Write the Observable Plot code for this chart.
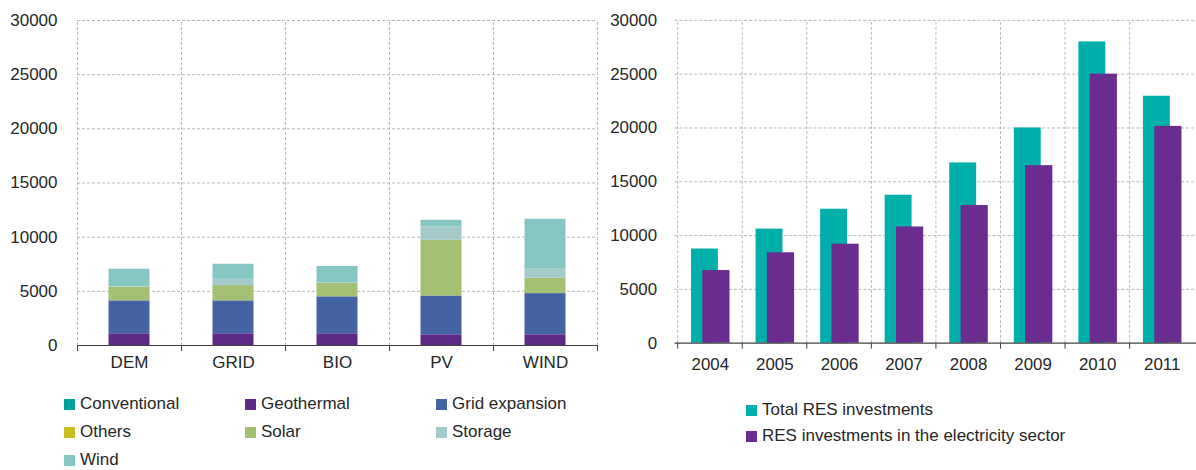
<!DOCTYPE html>
<html><head><meta charset="utf-8">
<script src="https://cdn.jsdelivr.net/npm/d3@7"></script>
<script src="https://cdn.jsdelivr.net/npm/@observablehq/plot@0.6"></script>
<style>
body{margin:0;width:1196px;height:470px;background:#fff;position:relative;overflow:hidden;font-family:"Liberation Sans",Arial,sans-serif;color:#262626}
#left{position:absolute;left:0;top:0}
#right{position:absolute;left:600px;top:0}
.lg{position:absolute;font-size:17px;line-height:20px;white-space:nowrap;display:flex;align-items:center}
.sw{display:inline-block;width:11px;height:11px;margin-right:5px}
</style></head>
<body>
<div id="left"></div>
<div id="right"></div>
<div id="legL"></div>
<div id="legR"></div>
<script>
// ---- Left chart data ----
const categories = ["DEM", "GRID", "BIO", "PV", "WIND"];
const seriesNames = ["Conventional", "Geothermal", "Grid expansion", "Others", "Solar", "Storage", "Wind"];
const conventional = [0, 0, 0, 0, 0];
const geothermal = [1080, 1080, 1080, 990, 990];
const gridExpansion = [3040, 3040, 3410, 3580, 3800];
const others = [0, 0, 0, 0, 0];
const solar = [1260, 1410, 1260, 5140, 1420];
const storage = [60, 580, 30, 1240, 890];
const wind = [1600, 1390, 1510, 610, 4550];
const seriesColors = ["#00a19a", "#5f2a85", "#4463a3", "#c8c022", "#a3bf72", "#a4cac9", "#85c5c2"];

// ---- Right chart data ----
const years = ["2004", "2005", "2006", "2007", "2008", "2009", "2010", "2011"];
const totalRES = [8750, 10600, 12450, 13750, 16750, 20000, 28000, 22950];
const electricityRES = [6750, 8400, 9200, 10800, 12800, 16500, 25000, 20150];
const rightNames = ["Total RES investments", "RES investments in the electricity sector"];
const rightColors = ["#00afaa", "#6a2d8f"];

const yTicks = [0, 5000, 10000, 15000, 20000, 25000, 30000];

const gridStyle = {stroke: "#b8b8b8", strokeOpacity: 1, strokeDasharray: "3,2", strokeWidth: 1};
const baseStyle = {fontFamily: "'Liberation Sans', Arial, sans-serif", fontSize: "17px", color: "#262626", background: "white", overflow: "visible"};

// Left chart
const leftValues = [conventional, geothermal, gridExpansion, others, solar, storage, wind];
const leftRows = [];
seriesNames.forEach((s, si) => categories.forEach((c, ci) => leftRows.push({cat: c, series: s, value: leftValues[si][ci]})));

const LW = 600, LH = 385, lx0 = 77, lx1 = 597, yTop = 20, yBot = 345;
const stepL = (lx1 - lx0) / categories.length;
const barWL = 41;

const left = Plot.plot({
  width: LW, height: LH,
  marginLeft: lx0, marginRight: LW - lx1, marginTop: yTop, marginBottom: LH - yBot,
  style: baseStyle,
  x: {domain: categories, padding: 0, label: null},
  y: {domain: [0, 30000], label: null},
  color: {domain: seriesNames, range: seriesColors},
  marks: [
    Plot.ruleY(yTicks.filter(d => d > 0), {y: d => d, ...gridStyle}),
    Plot.ruleX(categories, {x: d => d, dx: -stepL / 2, y1: 0, y2: 30000, ...gridStyle}),
    Plot.ruleX(categories.slice(-1), {x: d => d, dx: stepL / 2, y1: 0, y2: 30000, ...gridStyle}),
    Plot.barY(leftRows, {x: "cat", y: "value", fill: "series", insetLeft: (stepL - barWL) / 2, insetRight: (stepL - barWL) / 2}),
    Plot.ruleY([0], {stroke: "#404040", strokeWidth: 1.2}),
    Plot.ruleX(categories, {x: d => d, dx: -stepL / 2, y1: 0, y2: 0, insetBottom: -6, stroke: "#404040"}),
    Plot.ruleX(categories.slice(-1), {x: d => d, dx: stepL / 2, y1: 0, y2: 0, insetBottom: -6, stroke: "#404040"}),
    Plot.axisY({ticks: yTicks, tickSize: 0, tickPadding: 20, tickFormat: d3.format("d"), label: null}),
    Plot.axisX({tickSize: 0, tickPadding: 10, label: null})
  ]
});
document.getElementById("left").append(left);

// Right chart
const RW = 600, RH = 385, rx0 = 75, rx1 = 600;
const stepR = (rx1 - rx0) / years.length;
const rightRows = [];
years.forEach((y, i) => {
  rightRows.push({year: y, series: rightNames[0], value: totalRES[i]});
});
const rightRows2 = years.map((y, i) => ({year: y, series: rightNames[1], value: electricityRES[i]}));

const right = Plot.plot({
  width: RW, height: RH,
  marginLeft: rx0, marginRight: RW - rx1, marginTop: yTop, marginBottom: RH - yBot,
  style: baseStyle,
  x: {domain: years, padding: 0, label: null},
  y: {domain: [0, 30000], label: null},
  color: {domain: rightNames, range: rightColors},
  marks: [
    Plot.ruleY(yTicks.filter(d => d > 0), {y: d => d, ...gridStyle}),
    Plot.ruleX(years, {x: d => d, dx: -stepR / 2, y1: 0, y2: 30000, ...gridStyle}),
    Plot.barY(rightRows, {x: "year", y: "value", fill: "series", insetLeft: 13.6, insetRight: stepR - 41.3}),
    Plot.barY(rightRows2, {x: "year", y: "value", fill: "series", insetLeft: 25, insetRight: stepR - 53}),
    Plot.ruleY([0], {stroke: "#404040", strokeWidth: 1.2}),
    Plot.ruleX(years, {x: d => d, dx: -stepR / 2, y1: 0, y2: 0, insetBottom: -6, stroke: "#404040"}),
    Plot.axisY({ticks: yTicks, tickSize: 0, tickPadding: 18, tickFormat: d3.format("d"), label: null}),
    Plot.axisX({tickSize: 0, tickPadding: 15, label: null})
  ]
});
document.getElementById("right").append(right);

// Legends
const legL = document.getElementById("legL");
const colX = [64, 245, 436];
const rowY = [404, 432, 460];
seriesNames.forEach((s, i) => {
  const d = document.createElement("div");
  d.className = "lg";
  d.style.left = colX[i % 3] + "px";
  d.style.top = (rowY[Math.floor(i / 3)] - 10) + "px";
  d.innerHTML = `<span class="sw" style="background:${seriesColors[i]}"></span>${s}`;
  legL.append(d);
});
const legR = document.getElementById("legR");
const rRowY = [410, 436];
rightNames.forEach((s, i) => {
  const d = document.createElement("div");
  d.className = "lg";
  d.style.left = "746px";
  d.style.top = (rRowY[i] - 10) + "px";
  d.innerHTML = `<span class="sw" style="background:${rightColors[i]}"></span>${s}`;
  legR.append(d);
});
</script>
</body></html>
